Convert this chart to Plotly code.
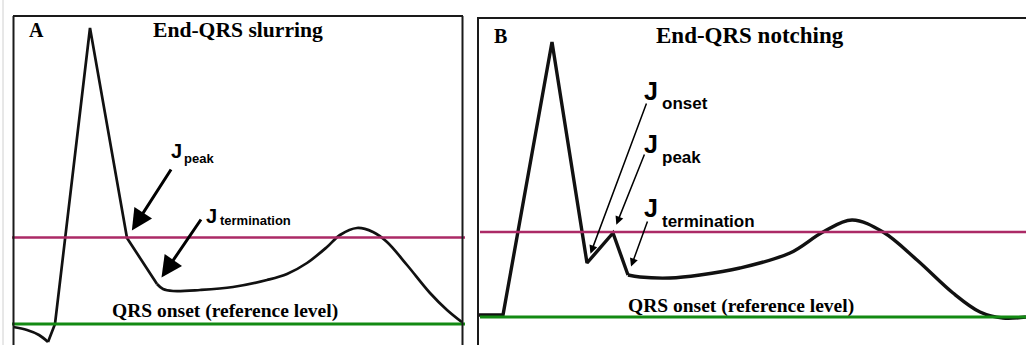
import plotly.graph_objects as go

W, H = 1026, 345

# ---------------- data ----------------
# Panel A: end-QRS slurring (time in ms, amplitude in mV; QRS onset level = 0)
a_dip_t = [0, 14, 26, 35]
a_dip_v = [-0.03, -0.06, -0.11, -0.18]
a_qrs_t = [35, 42, 77, 114, 144]
a_qrs_v = [-0.18, 0.0, 2.96, 0.86, 0.40]
a_st_t = [144, 150, 160, 187, 220, 254, 274, 294, 314, 327, 344, 360, 374, 394, 417, 434, 450]
a_st_v = [0.40, 0.35, 0.33, 0.34, 0.37, 0.44, 0.50, 0.61, 0.77, 0.89, 0.96, 0.92, 0.82, 0.59, 0.31, 0.14, 0.01]
a_ref_level = 0.0
a_j_level = 0.865

# Panel B: end-QRS notching
b_qrs_t = [0, 25, 74, 109, 135, 150]
b_qrs_v = [0.02, 0.02, 2.75, 0.54, 0.84, 0.42]
b_st_t = [150, 162, 192, 222, 262, 312, 345, 374, 405, 439, 475, 502, 525, 548]
b_st_v = [0.42, 0.40, 0.39, 0.42, 0.49, 0.64, 0.85, 0.97, 0.85, 0.57, 0.24, 0.05, -0.01, 0.0]
b_ref_level = 0.0
b_j_level = 0.85

panel_letters = ["A", "B"]
panel_titles = ["End-QRS slurring", "End-QRS notching"]
ref_label = "QRS onset (reference level)"
a_j_subs = ["peak", "termination"]
b_j_subs = ["onset", "peak", "termination"]

# ---------------- figure ----------------
SERIF = "Liberation Serif, Times New Roman, serif"
SANS = "Liberation Sans, Arial, sans-serif"
MAGENTA = "#ab2a66"
GREEN = "#138a13"
CURVE = "#111111"


def pp(x, y):
    """pixel -> paper coordinates"""
    return x / W, 1 - y / H


fig = go.Figure()

for t, v, shape in [(a_dip_t, a_dip_v, "spline"), (a_qrs_t, a_qrs_v, "linear"), (a_st_t, a_st_v, "spline")]:
    fig.add_trace(go.Scatter(x=t, y=v, mode="lines", line=dict(color=CURVE, width=2.7, shape=shape),
                             xaxis="x", yaxis="y", hoverinfo="skip", showlegend=False))
for t, v, shape in [(b_qrs_t, b_qrs_v, "linear"), (b_st_t, b_st_v, "spline")]:
    fig.add_trace(go.Scatter(x=t, y=v, mode="lines", line=dict(color=CURVE, width=3.4, shape=shape),
                             xaxis="x2", yaxis="y2", hoverinfo="skip", showlegend=False))

shapes = []
# faint left edge line
shapes.append(dict(type="line", xref="paper", yref="paper", x0=3 / W, x1=3 / W, y0=-0.1, y1=1.1,
                   line=dict(color="#d0d0d0", width=1), layer="below"))
# reference lines
for xr0, xr1, yref, lvl_j, lvl_r in [(12, 465, "y", a_j_level, a_ref_level),
                                     (480, 1030, "y2", b_j_level, b_ref_level)]:
    shapes.append(dict(type="line", xref="paper", yref=yref, x0=xr0 / W, x1=xr1 / W, y0=lvl_j, y1=lvl_j,
                       line=dict(color=MAGENTA, width=2.5)))
    shapes.append(dict(type="line", xref="paper", yref=yref, x0=xr0 / W, x1=xr1 / W, y0=lvl_r, y1=lvl_r,
                       line=dict(color=GREEN, width=3)))
# panel borders
BORDER = dict(color="#1a1a1a", width=2)
for (x0, y0, x1, y1) in [(13.5, 16, 13.5, 360), (13, 16, 463, 16), (462.5, 16, 462.5, 360),
                         (478, 18, 478, 360), (477, 18, 1040, 18)]:
    a0, b0 = pp(x0, y0)
    a1, b1 = pp(x1, y1)
    shapes.append(dict(type="line", xref="paper", yref="paper", x0=a0, y0=b0, x1=a1, y1=b1, line=BORDER))

ann = []


def text(x, y, s, size, family, xanchor="center"):
    px_, py_ = pp(x, y)
    ann.append(dict(x=px_, y=py_, xref="paper", yref="paper", text=s, showarrow=False,
                    font=dict(size=size, family=family, color="black"), xanchor=xanchor, yanchor="middle"))


# Titles and panel letters
text(27, 30, "<b>%s</b>" % panel_letters[0], 20, SERIF, "left")
text(238, 30, "<b>%s</b>" % panel_titles[0], 21.6, SERIF)
text(492, 36, "<b>%s</b>" % panel_letters[1], 20, SERIF, "left")
text(750, 36, "<b>%s</b>" % panel_titles[1], 23, SERIF)
text(224.5, 311, "<b>%s</b>" % ref_label, 19.5, SERIF)
text(741, 305.5, "<b>%s</b>" % ref_label, 19.5, SERIF)

# J labels panel A
text(169, 151, "<b>J</b>", 20, SANS, "left")
text(182, 158.5, "<b>%s</b>" % a_j_subs[0], 13, SANS, "left")
text(204, 216, "<b>J</b>", 20, SANS, "left")
text(218, 220.5, "<b>%s</b>" % a_j_subs[1], 13, SANS, "left")
# J labels panel B
for jy, sy, sub in [(91, 103, b_j_subs[0]), (144, 157, b_j_subs[1]), (208, 221, b_j_subs[2])]:
    text(642, jy, "<b>J</b>", 25, SANS, "left")
    text(660, sy, "<b>%s</b>" % sub, 17, SANS, "left")

# Arrows pointing at the J points of the curves
arrows = [
    ("x", "y", a_qrs_t[3], a_qrs_v[3], 45, -70, 9, 3.0, 1.4),
    ("x", "y", a_qrs_t[4], a_qrs_v[4], 45, -66, 8, 3.0, 1.4),
    ("x2", "y2", b_qrs_t[3], b_qrs_v[3], 60, -161, 10, 1.5, 1.1),
    ("x2", "y2", b_qrs_t[4], b_qrs_v[4], 32, -80, 9, 1.5, 1.1),
    ("x2", "y2", b_qrs_t[5], b_qrs_v[5], 20, -55, 9, 1.5, 1.1),
]
for xr, yr, x, y, ax, ay, so, aw, asz in arrows:
    ann.append(dict(x=x, y=y, xref=xr, yref=yr, ax=ax, ay=ay, text="", showarrow=True,
                    arrowhead=2, arrowsize=asz, arrowwidth=aw, arrowcolor="black", standoff=so))

hidden = dict(visible=False, showgrid=False, zeroline=False, fixedrange=True)
fig.update_layout(
    width=W, height=H,
    margin=dict(l=0, r=0, t=0, b=0),
    paper_bgcolor="white", plot_bgcolor="rgba(0,0,0,0)",
    xaxis=dict(domain=[13 / W, 463 / W], range=[0, 450], **hidden),
    yaxis=dict(domain=[0, 1], range=[-0.21, 3.24], **hidden),
    xaxis2=dict(domain=[478 / W, 1], range=[0, 548], anchor="y2", **hidden),
    yaxis2=dict(domain=[0, 1], range=[-0.28, 3.17], anchor="x2", **hidden),
    shapes=shapes,
    annotations=ann,
    showlegend=False,
)

fig.write_html("out.html", config={"displayModeBar": False},
               post_script="document.body.style.margin='0px';document.body.style.overflow='hidden';")
